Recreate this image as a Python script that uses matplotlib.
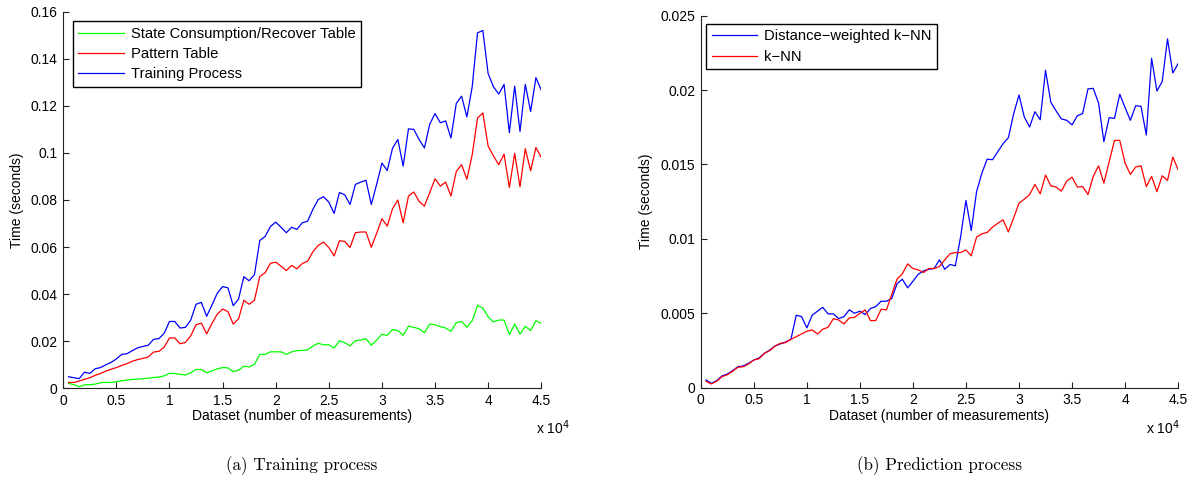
import matplotlib
matplotlib.use("Agg")
import matplotlib.pyplot as plt
import numpy as np

# dataset sizes (number of measurements)
sizes = np.arange(500, 45001, 500)

# (a) training process, seconds
state_table = [
    0.0021, 0.0015, 0.0007, 0.0015, 0.0015, 0.0018, 0.0024, 0.0025, 0.0025, 0.0028,
    0.0032, 0.0035, 0.0038, 0.0039, 0.0041, 0.0043, 0.0046, 0.0048, 0.0053, 0.0064,
    0.0063, 0.0059, 0.0057, 0.0066, 0.0080, 0.0080, 0.0066, 0.0074, 0.0083, 0.0088,
    0.0087, 0.0071, 0.0077, 0.0094, 0.0091, 0.0102, 0.0144, 0.0144, 0.0155, 0.0155,
    0.0155, 0.0144, 0.0155, 0.0160, 0.0161, 0.0163, 0.0180, 0.0191, 0.0185, 0.0185,
    0.0171, 0.0202, 0.0194, 0.0180, 0.0202, 0.0205, 0.0211, 0.0183, 0.0205, 0.0230,
    0.0225, 0.0250, 0.0245, 0.0225, 0.0264, 0.0259, 0.0253, 0.0236, 0.0273, 0.0270,
    0.0262, 0.0256, 0.0242, 0.0279, 0.0284, 0.0259, 0.0287, 0.0352, 0.0341, 0.0304,
    0.0282, 0.0290, 0.0290, 0.0228, 0.0273, 0.0230, 0.0264, 0.0245, 0.0287, 0.0276,
]
pattern_table = [
    0.0025, 0.0025, 0.0031, 0.0038, 0.0045, 0.0055, 0.0063, 0.0073, 0.0081, 0.0088,
    0.0097, 0.0105, 0.0115, 0.0122, 0.0127, 0.0133, 0.0154, 0.0157, 0.0175, 0.0214,
    0.0214, 0.0189, 0.0195, 0.0223, 0.0270, 0.0277, 0.0231, 0.0276, 0.0315, 0.0337,
    0.0326, 0.0273, 0.0295, 0.0374, 0.0357, 0.0374, 0.0475, 0.0491, 0.0531, 0.0536,
    0.0519, 0.0500, 0.0522, 0.0508, 0.0530, 0.0540, 0.0580, 0.0607, 0.0621, 0.0598,
    0.0562, 0.0627, 0.0624, 0.0598, 0.0661, 0.0664, 0.0664, 0.0599, 0.0658, 0.0720,
    0.0689, 0.0763, 0.0800, 0.0703, 0.0817, 0.0834, 0.0794, 0.0774, 0.0831, 0.0890,
    0.0859, 0.0876, 0.0817, 0.0921, 0.0950, 0.0888, 0.0992, 0.1148, 0.1170, 0.1029,
    0.0987, 0.0950, 0.0995, 0.0853, 0.0998, 0.0856, 0.1018, 0.0924, 0.1023, 0.0981,
]
training_total = [
    0.0049, 0.0045, 0.0041, 0.0069, 0.0063, 0.0083, 0.0088, 0.0100, 0.0110, 0.0125,
    0.0144, 0.0147, 0.0160, 0.0172, 0.0178, 0.0183, 0.0208, 0.0211, 0.0234, 0.0284,
    0.0284, 0.0256, 0.0259, 0.0290, 0.0357, 0.0365, 0.0306, 0.0354, 0.0404, 0.0432,
    0.0427, 0.0351, 0.0379, 0.0474, 0.0457, 0.0483, 0.0628, 0.0645, 0.0687, 0.0706,
    0.0684, 0.0661, 0.0684, 0.0675, 0.0703, 0.0710, 0.0760, 0.0802, 0.0814, 0.0791,
    0.0743, 0.0832, 0.0822, 0.0781, 0.0866, 0.0876, 0.0884, 0.0781, 0.0866, 0.0957,
    0.0925, 0.1020, 0.1057, 0.0944, 0.1102, 0.1100, 0.1057, 0.1021, 0.1122, 0.1167,
    0.1128, 0.1136, 0.1063, 0.1210, 0.1241, 0.1153, 0.1281, 0.1510, 0.1520, 0.1337,
    0.1281, 0.1250, 0.1291, 0.1086, 0.1284, 0.1091, 0.1291, 0.1176, 0.1320, 0.1267,
]

# (b) prediction process, seconds
knn_weighted = [
    0.00052, 0.00029, 0.00047, 0.00079, 0.00092, 0.00114, 0.00141, 0.00146, 0.00164, 0.00186,
    0.00200, 0.00231, 0.00253, 0.00280, 0.00294, 0.00307, 0.00325, 0.00487, 0.00478, 0.00402,
    0.00487, 0.00514, 0.00540, 0.00496, 0.00496, 0.00464, 0.00478, 0.00523, 0.00500, 0.00514,
    0.00491, 0.00532, 0.00545, 0.00581, 0.00581, 0.00599, 0.00698, 0.00729, 0.00671, 0.00715,
    0.00762, 0.00785, 0.00796, 0.00801, 0.00859, 0.00796, 0.00828, 0.00819, 0.01016, 0.01258,
    0.01056, 0.01317, 0.01442, 0.01536, 0.01532, 0.01586, 0.01640, 0.01680, 0.01842, 0.01967,
    0.01819, 0.01752, 0.01855, 0.01801, 0.02133, 0.01918, 0.01860, 0.01806, 0.01797, 0.01766,
    0.01828, 0.01842, 0.02008, 0.02012, 0.01913, 0.01653, 0.01815, 0.01810, 0.01972, 0.01882,
    0.01797, 0.01895, 0.01891, 0.01698, 0.02214, 0.01994, 0.02057, 0.02344, 0.02115, 0.02178,
]
knn_plain = [
    0.00043, 0.00025, 0.00043, 0.00074, 0.00087, 0.00110, 0.00137, 0.00141, 0.00159, 0.00186,
    0.00195, 0.00231, 0.00249, 0.00280, 0.00298, 0.00303, 0.00325, 0.00343, 0.00361, 0.00379,
    0.00388, 0.00361, 0.00393, 0.00406, 0.00464, 0.00455, 0.00428, 0.00469, 0.00473, 0.00500,
    0.00523, 0.00451, 0.00451, 0.00527, 0.00523, 0.00626, 0.00729, 0.00765, 0.00832, 0.00801,
    0.00792, 0.00774, 0.00801, 0.00801, 0.00814, 0.00859, 0.00900, 0.00908, 0.00908, 0.00926,
    0.00886, 0.01012, 0.01034, 0.01043, 0.01079, 0.01105, 0.01128, 0.01047, 0.01142, 0.01240,
    0.01267, 0.01298, 0.01366, 0.01303, 0.01429, 0.01357, 0.01348, 0.01321, 0.01388, 0.01415,
    0.01348, 0.01352, 0.01298, 0.01420, 0.01491, 0.01375, 0.01518, 0.01662, 0.01662, 0.01510,
    0.01433, 0.01483, 0.01491, 0.01352, 0.01420, 0.01317, 0.01424, 0.01393, 0.01550, 0.01465,
]

x_ticks = [0, 5000, 10000, 15000, 20000, 25000, 30000, 35000, 40000, 45000]
x_ticklabels = ["0", "0.5", "1", "1.5", "2", "2.5", "3", "3.5", "4", "4.5"]
ya_ticks = [0, 0.02, 0.04, 0.06, 0.08, 0.10, 0.12, 0.14, 0.16]
ya_ticklabels = ["0", "0.02", "0.04", "0.06", "0.08", "0.1", "0.12", "0.14", "0.16"]
yb_ticks = [0, 0.005, 0.01, 0.015, 0.02, 0.025]
yb_ticklabels = ["0", "0.005", "0.01", "0.015", "0.02", "0.025"]

plt.rcParams["font.family"] = ["Liberation Sans", "DejaVu Sans"]
plt.rcParams["font.size"] = 10

MINUS = "\u2212"


def style_axes(ax, yticks, yticklabels, ymax):
    ax.set_xlim(0, 45000)
    ax.set_ylim(0, ymax)
    ax.set_xticks(x_ticks, x_ticklabels)
    ax.set_yticks(yticks, yticklabels)
    for side in ("top", "right"):
        ax.spines[side].set_visible(False)
    for side in ("left", "bottom"):
        ax.spines[side].set_linewidth(0.8)
        ax.spines[side].set_color("#222222")
    ax.tick_params(direction="in", length=4, width=0.8, color="#222222",
                   labelsize=10, pad=4)
    ax.set_xlabel("Dataset (number of measurements)", fontsize=10, labelpad=1)
    ax.set_ylabel("Time (seconds)", fontsize=10, labelpad=5)


fig = plt.figure(figsize=(11.94, 4.86), dpi=100)
ax1 = fig.add_axes([0.0530, 0.2010, 0.4003, 0.7750])
ax2 = fig.add_axes([0.5869, 0.2023, 0.3998, 0.7654])

lw = 0.9
ax1.plot(sizes, state_table, color=(0, 1, 0), lw=lw, label="State Consumption/Recover Table")
ax1.plot(sizes, pattern_table, color=(1, 0, 0), lw=lw, label="Pattern Table")
ax1.plot(sizes, training_total, color=(0, 0, 1), lw=lw, label="Training Process")
style_axes(ax1, ya_ticks, ya_ticklabels, 0.16)

ax2.plot(sizes, knn_weighted, color=(0, 0, 1), lw=lw, label=f"Distance{MINUS}weighted k{MINUS}NN")
ax2.plot(sizes, knn_plain, color=(1, 0, 0), lw=lw, label=f"k{MINUS}NN")
style_axes(ax2, yb_ticks, yb_ticklabels, 0.025)

for ax, anchor in ((ax1, (0.02, 0.975)), (ax2, (0.011, 0.978))):
    leg = ax.legend(loc="upper left", bbox_to_anchor=anchor, borderaxespad=0,
                    fancybox=False, framealpha=1, edgecolor="black",
                    handlelength=3.1, handletextpad=0.45, labelspacing=0.42,
                    borderpad=0.38, fontsize=10.6)
    leg.get_frame().set_linewidth(1.0)

# MATLAB-style exponent notes under the x axes
fig.text(536 / 1194, 1 - 428 / 486, r"x 10$^{4}$", ha="left", va="center", fontsize=10)
fig.text(1146 / 1194, 1 - 428 / 486, r"x 10$^{4}$", ha="left", va="center", fontsize=10)

fig.text(0.253, 1 - 466 / 486, "(a) Training process", ha="center", va="center",
         fontsize=12.3, family=["cmr10", "DejaVu Serif"])
fig.text(0.787, 1 - 466 / 486, "(b) Prediction process", ha="center", va="center",
         fontsize=12.3, family=["cmr10", "DejaVu Serif"])

fig.savefig("out.png", dpi=100)
